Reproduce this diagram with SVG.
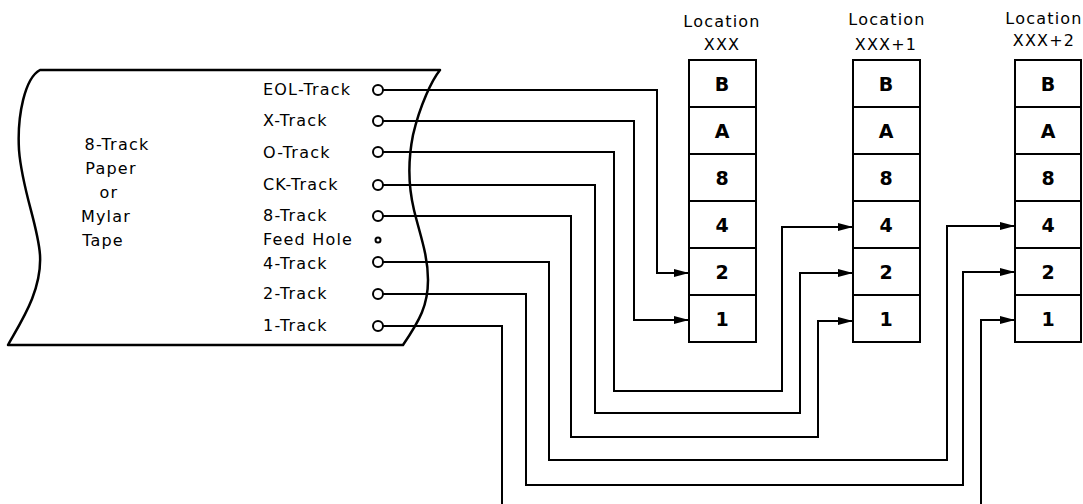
<svg xmlns="http://www.w3.org/2000/svg" width="1083" height="504" viewBox="0 0 1083 504">
<defs>
<marker id="ah" markerWidth="16" markerHeight="10" refX="15" refY="5" orient="auto" markerUnits="userSpaceOnUse">
<path d="M0,1 L15,5 L0,9 Z" fill="#000"/>
</marker>
<style>
.t{font-family:"DejaVu Sans","Liberation Sans",sans-serif;font-size:16px;fill:#000;letter-spacing:1.2px}
.c{font-family:"DejaVu Sans","Liberation Sans",sans-serif;font-size:19px;font-weight:bold;fill:#000;text-anchor:middle}
.m{text-anchor:middle}
.cell{fill:#fff;stroke:#000;stroke-width:2}
.hole{fill:#fff;stroke:#000;stroke-width:2}
.w{fill:none;stroke:#000;stroke-width:2}
.wa{fill:none;stroke:#000;stroke-width:2;marker-end:url(#ah)}
</style>
</defs>
<rect width="1083" height="504" fill="#fff"/>

<g id="tape">
<path d="M40,70 L440,70 C432,80 420,105 413,135 C408,160 408,185 414,210 C420,235 428,255 428,280 C428,305 420,320 403,345 L8,345 C22,320 42,290 40,255 C38,225 22,190 19,150 C17,115 25,78 40,70 Z" fill="#fff" stroke="#000" stroke-width="2.5" stroke-linejoin="round"/>
<text class="t m" x="117" y="150">8-Track</text>
<text class="t m" x="111" y="174">Paper</text>
<text class="t m" x="109" y="198">or</text>
<text class="t m" x="106" y="222">Mylar</text>
<text class="t m" x="103" y="246">Tape</text>
<text class="t" x="263" y="95">EOL-Track</text>
<text class="t" x="263" y="126">X-Track</text>
<text class="t" x="263" y="158">O-Track</text>
<text class="t" x="263" y="190">CK-Track</text>
<text class="t" x="263" y="221">8-Track</text>
<text class="t" x="263" y="245">Feed Hole</text>
<text class="t" x="263" y="269">4-Track</text>
<text class="t" x="263" y="299">2-Track</text>
<text class="t" x="263" y="331">1-Track</text>
</g>

<g id="connectors">
<path class="wa" d="M383,90 H657 V273 H689"/>
<path class="wa" d="M383,121 H634 V320 H689"/>
<path class="wa" d="M383,152 H614 V391 H782 V227 H853"/>
<path class="wa" d="M383,185 H595 V413 H800 V273 H853"/>
<path class="wa" d="M383,216 H571 V437 H818 V321 H853"/>
<path class="wa" d="M383,262 H549 V460 H947 V226 H1015"/>
<path class="wa" d="M383,294 H526 V485 H963 V272 H1015"/>
<path class="w" d="M383,326 H502 V504"/>
<path class="wa" d="M981,504 V320 H1015"/>
</g>

<g id="holes">
<circle class="hole" cx="378" cy="90" r="5"/>
<circle class="hole" cx="378" cy="121" r="5"/>
<circle class="hole" cx="378" cy="152" r="5"/>
<circle class="hole" cx="378" cy="185" r="5"/>
<circle class="hole" cx="378" cy="216" r="5"/>
<circle class="hole" cx="378" cy="240" r="2.5" stroke-width="1.8"/>
<circle class="hole" cx="378" cy="262" r="5"/>
<circle class="hole" cx="378" cy="294" r="5"/>
<circle class="hole" cx="378" cy="326" r="5"/>
</g>

<g id="loc-xxx">
<text class="t m" x="722" y="27">Location</text>
<text class="t m" x="722" y="50">XXX</text>
<rect class="cell" x="689" y="60" width="67" height="47"/>
<rect class="cell" x="689" y="107" width="67" height="47"/>
<rect class="cell" x="689" y="154" width="67" height="47"/>
<rect class="cell" x="689" y="201" width="67" height="47"/>
<rect class="cell" x="689" y="248" width="67" height="47"/>
<rect class="cell" x="689" y="295" width="67" height="47"/>
<text class="c" x="722" y="91">B</text>
<text class="c" x="722" y="138">A</text>
<text class="c" x="722" y="185">8</text>
<text class="c" x="722" y="232">4</text>
<text class="c" x="722" y="279">2</text>
<text class="c" x="722" y="326">1</text>
</g>

<g id="loc-xxx1">
<text class="t m" x="887" y="25">Location</text>
<text class="t m" x="886" y="50">XXX+1</text>
<rect class="cell" x="853" y="60" width="67" height="47"/>
<rect class="cell" x="853" y="107" width="67" height="47"/>
<rect class="cell" x="853" y="154" width="67" height="47"/>
<rect class="cell" x="853" y="201" width="67" height="47"/>
<rect class="cell" x="853" y="248" width="67" height="47"/>
<rect class="cell" x="853" y="295" width="67" height="47"/>
<text class="c" x="886" y="91">B</text>
<text class="c" x="886" y="138">A</text>
<text class="c" x="886" y="185">8</text>
<text class="c" x="886" y="232">4</text>
<text class="c" x="886" y="279">2</text>
<text class="c" x="886" y="326">1</text>
</g>

<g id="loc-xxx2">
<text class="t m" x="1044" y="24">Location</text>
<text class="t m" x="1044" y="46">XXX+2</text>
<rect class="cell" x="1015" y="60" width="66" height="47"/>
<rect class="cell" x="1015" y="107" width="66" height="47"/>
<rect class="cell" x="1015" y="154" width="66" height="47"/>
<rect class="cell" x="1015" y="201" width="66" height="47"/>
<rect class="cell" x="1015" y="248" width="66" height="47"/>
<rect class="cell" x="1015" y="295" width="66" height="47"/>
<text class="c" x="1048" y="91">B</text>
<text class="c" x="1048" y="138">A</text>
<text class="c" x="1048" y="185">8</text>
<text class="c" x="1048" y="232">4</text>
<text class="c" x="1048" y="279">2</text>
<text class="c" x="1048" y="326">1</text>
</g>
</svg>
